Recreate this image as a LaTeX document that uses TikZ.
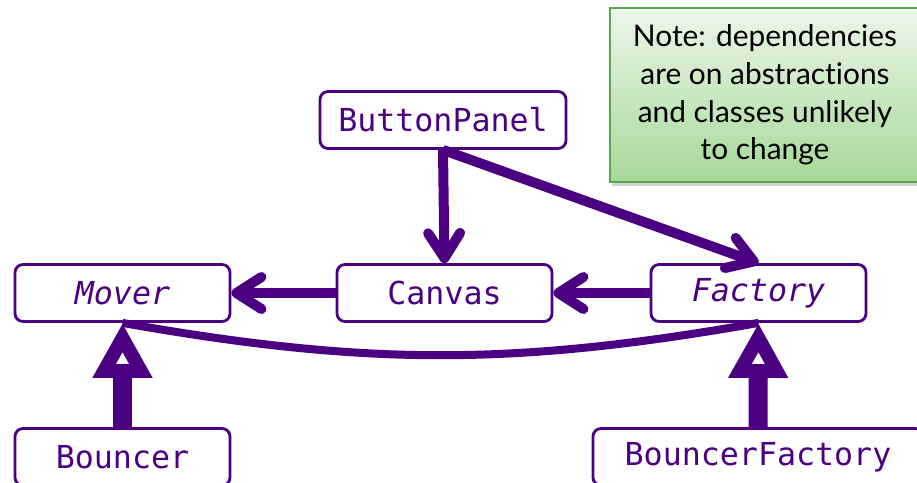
\documentclass[tikz,border=0pt]{standalone}
\usepackage{fontspec}
\setmainfont{Lato}[Ligatures=NoCommon]
\setmonofont{DejaVu Sans Mono}
\usetikzlibrary{arrows.meta,shadows}
\definecolor{plum}{RGB}{75,0,130}
\definecolor{notetop}{RGB}{236,246,233}
\definecolor{notebot}{RGB}{166,216,152}
\definecolor{noteline}{RGB}{86,166,76}

\begin{document}
\begin{tikzpicture}[>={Straight Barb[length=0.5cm,width=0.64cm,round]},
  cls/.style={draw=plum, text=plum, line width=1.6pt, rounded corners=0.16cm,
    minimum height=1.14cm, font=\ttfamily\fontsize{18}{22}\selectfont},
  dep/.style={->, draw=plum, line width=0.2cm},
  isa/.style={-{Triangle[open,length=1.1cm,width=1.12cm,line width=0.3cm]},
    draw=plum, line width=0.38cm}]
\useasboundingbox (0,0) rectangle (18.34,-9.64);

\node[cls, minimum width=4.92cm] (bp) at (8.86,-2.40) {ButtonPanel};
\node[cls, minimum width=4.30cm] (mover) at (2.45,-5.86) {\itshape Mover};
\node[cls, minimum width=4.30cm] (canvas) at (8.89,-5.86) {Canvas};
\node[cls, minimum width=4.30cm] (fact) at (15.17,-5.86) {\itshape Factory};
\node[cls, minimum width=4.30cm] (bouncer) at (2.45,-9.14) {Bouncer};
\node[cls, minimum width=6.60cm] (bfact) at (15.16,-9.14) {BouncerFactory};

\node[draw=noteline, line width=0.8pt, top color=notetop, bottom color=notebot,
  drop shadow={shadow xshift=1pt, shadow yshift=-2.5pt, opacity=0.35},
  minimum width=6.2cm, minimum height=3.48cm, align=center,
  font=\fontsize{17}{21.5}\selectfont] (note) at (15.3,-1.9)
  {Note: dependencies\\are on abstractions\\and classes unlikely\\to change};

\draw[dep] (bp.south) -- (canvas.north);
\draw[dep] (bp.south) -- (fact.north);
\draw[dep] (canvas.west) -- (mover.east);
\draw[dep] (fact.west) -- (canvas.east);

\draw[plum, line width=0.16cm] (mover.south) to[bend right=10] (fact.south);

\draw[isa] (bouncer.north) -- (mover.south);
\draw[isa] (bfact.north) -- (fact.south);
\end{tikzpicture}
\end{document}
